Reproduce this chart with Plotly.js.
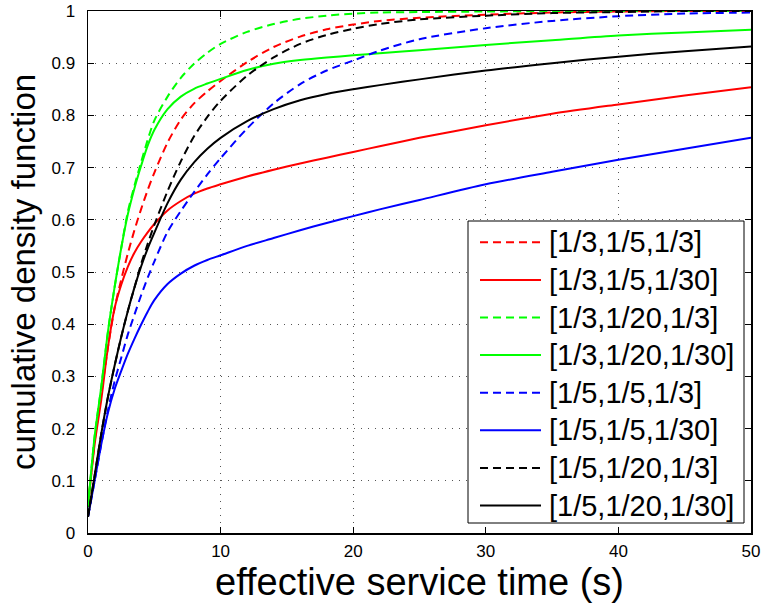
<!DOCTYPE html>
<html>
<head>
<meta charset="utf-8">
<script src="https://cdn.plot.ly/plotly-3.0.1.min.js"></script>
<style>html,body{margin:0;padding:0;background:#fff;}#chart{width:763px;height:603px;}</style>
</head>
<body>
<div id="chart"></div>
<script>
const xTime = [0, 0.5, 1, 1.5, 2, 2.5, 3, 3.5, 4, 4.5, 5, 6, 7, 8, 9, 10, 12, 14, 16, 18, 20, 22, 25, 30, 35, 40, 45, 50];

const redDashed   = [0.05, 0.175, 0.265, 0.355, 0.43, 0.485, 0.535, 0.58, 0.62, 0.657, 0.69, 0.748, 0.792, 0.823, 0.846, 0.866, 0.902, 0.931, 0.951, 0.965, 0.974, 0.981, 0.987, 0.993, 0.997, 0.999, 1, 1];
const redSolid    = [0.05, 0.17, 0.255, 0.355, 0.43, 0.475, 0.51, 0.537, 0.558, 0.576, 0.592, 0.618, 0.636, 0.65, 0.66, 0.668, 0.683, 0.696, 0.708, 0.719, 0.73, 0.741, 0.757, 0.781, 0.803, 0.821, 0.838, 0.854];
const greenDashed = [0.05, 0.185, 0.28, 0.385, 0.47, 0.545, 0.615, 0.665, 0.71, 0.753, 0.79, 0.836, 0.872, 0.899, 0.92, 0.937, 0.96, 0.975, 0.985, 0.991, 0.995, 0.997, 0.998, 0.999, 1, 1, 1, 1];
const greenSolid  = [0.05, 0.185, 0.28, 0.385, 0.47, 0.545, 0.61, 0.66, 0.703, 0.742, 0.772, 0.812, 0.836, 0.851, 0.861, 0.87, 0.887, 0.899, 0.906, 0.911, 0.915, 0.919, 0.925, 0.935, 0.944, 0.953, 0.959, 0.964];
const blueDashed  = [0.031, 0.1, 0.17, 0.235, 0.29, 0.335, 0.38, 0.418, 0.455, 0.489, 0.52, 0.577, 0.617, 0.653, 0.687, 0.718, 0.775, 0.823, 0.86, 0.886, 0.905, 0.924, 0.946, 0.967, 0.981, 0.99, 0.995, 0.997];
const blueSolid   = [0.031, 0.1, 0.17, 0.23, 0.275, 0.31, 0.343, 0.372, 0.399, 0.424, 0.446, 0.477, 0.497, 0.512, 0.523, 0.532, 0.55, 0.565, 0.58, 0.594, 0.607, 0.62, 0.638, 0.668, 0.692, 0.715, 0.736, 0.757];
const blackDashed = [0.031, 0.11, 0.19, 0.26, 0.32, 0.375, 0.425, 0.47, 0.515, 0.554, 0.59, 0.655, 0.712, 0.76, 0.797, 0.828, 0.876, 0.911, 0.937, 0.954, 0.966, 0.975, 0.984, 0.991, 0.996, 0.998, 1, 1];
const blackSolid  = [0.031, 0.11, 0.19, 0.26, 0.32, 0.375, 0.425, 0.47, 0.51, 0.545, 0.575, 0.632, 0.677, 0.71, 0.736, 0.757, 0.789, 0.812, 0.829, 0.841, 0.85, 0.858, 0.869, 0.886, 0.9, 0.9125, 0.923, 0.932];

const seriesNames = ['[1/3,1/5,1/3]', '[1/3,1/5,1/30]', '[1/3,1/20,1/3]', '[1/3,1/20,1/30]',
                     '[1/5,1/5,1/3]', '[1/5,1/5,1/30]', '[1/5,1/20,1/3]', '[1/5,1/20,1/30]'];
const seriesData = [redDashed, redSolid, greenDashed, greenSolid, blueDashed, blueSolid, blackDashed, blackSolid];
const seriesColors = ['#ff0000', '#ff0000', '#00ff00', '#00ff00', '#0000ff', '#0000ff', '#000000', '#000000'];
const seriesDash = ['8px,5px', 'solid', '8px,5px', 'solid', '8px,5px', 'solid', '8px,5px', 'solid'];

const traces = seriesData.map((ys, i) => ({
  type: 'scatter', mode: 'lines', x: xTime, y: ys, name: seriesNames[i],
  showlegend: false,
  line: {color: seriesColors[i], width: 2, dash: seriesDash[i], shape: 'spline', smoothing: 0.8}
}));

// Plot area geometry (pixels) used to place the MATLAB-style legend in paper coordinates
const PL = 88, PR = 751, PT = 11, PB = 533;
const px2x = p => (p - PL) / (PR - PL);
const py2y = p => (PB - p) / (PB - PT);

const fontFam = '"Liberation Sans", Arial, Helvetica, sans-serif';

const legendShapes = [{
  type: 'rect', xref: 'paper', yref: 'paper', layer: 'above',
  x0: px2x(468), x1: px2x(744), y0: py2y(523), y1: py2y(221),
  line: {color: '#000', width: 1}, fillcolor: '#fff'
}];
const legendAnnotations = [];
seriesNames.forEach((name, i) => {
  const rowY = py2y(242.3 + 37.6 * i);
  legendShapes.push({
    type: 'line', xref: 'paper', yref: 'paper', layer: 'above',
    x0: px2x(480), x1: px2x(541), y0: rowY, y1: rowY,
    line: {color: seriesColors[i], width: 2, dash: seriesDash[i]}
  });
  legendAnnotations.push({
    xref: 'paper', yref: 'paper', x: px2x(547), y: rowY,
    xanchor: 'left', yanchor: 'middle', showarrow: false,
    text: name, font: {family: fontFam, size: 29, color: '#000'}
  });
});

const axisCommon = {
  showline: true, linecolor: '#000', linewidth: 1.5, mirror: 'ticks',
  ticks: 'inside', ticklen: 6, tickcolor: '#000', tickwidth: 1,
  showgrid: true, gridcolor: '#555', gridwidth: 1, griddash: '1px,6px',
  zeroline: false, tickfont: {family: fontFam, size: 17, color: '#000'}
};

const layout = {
  width: 763, height: 603,
  margin: {l: PL, r: 763 - PR, t: PT, b: 603 - PB},
  paper_bgcolor: '#fff', plot_bgcolor: '#fff',
  font: {family: fontFam, color: '#000'},
  showlegend: false,
  xaxis: Object.assign({}, axisCommon, {
    range: [0, 50], tickvals: [0, 10, 20, 30, 40, 50], ticklabelstandoff: 2,
    title: {text: 'effective service time (s)', font: {family: fontFam, size: 38, color: '#000'}, standoff: 0}
  }),
  yaxis: Object.assign({}, axisCommon, {
    range: [0, 1], tickvals: [0, 0.1, 0.2, 0.3, 0.4, 0.5, 0.6, 0.7, 0.8, 0.9, 1],
    ticktext: ['0', '0.1', '0.2', '0.3', '0.4', '0.5', '0.6', '0.7', '0.8', '0.9', '1'],
    ticklabelstandoff: 8,
    title: {text: 'cumulative density function', font: {family: fontFam, size: 33, color: '#000'}, standoff: 6}
  }),
  shapes: legendShapes,
  annotations: legendAnnotations
};

Plotly.newPlot('chart', traces, layout, {displayModeBar: false, staticPlot: true});
</script>
</body>
</html>
